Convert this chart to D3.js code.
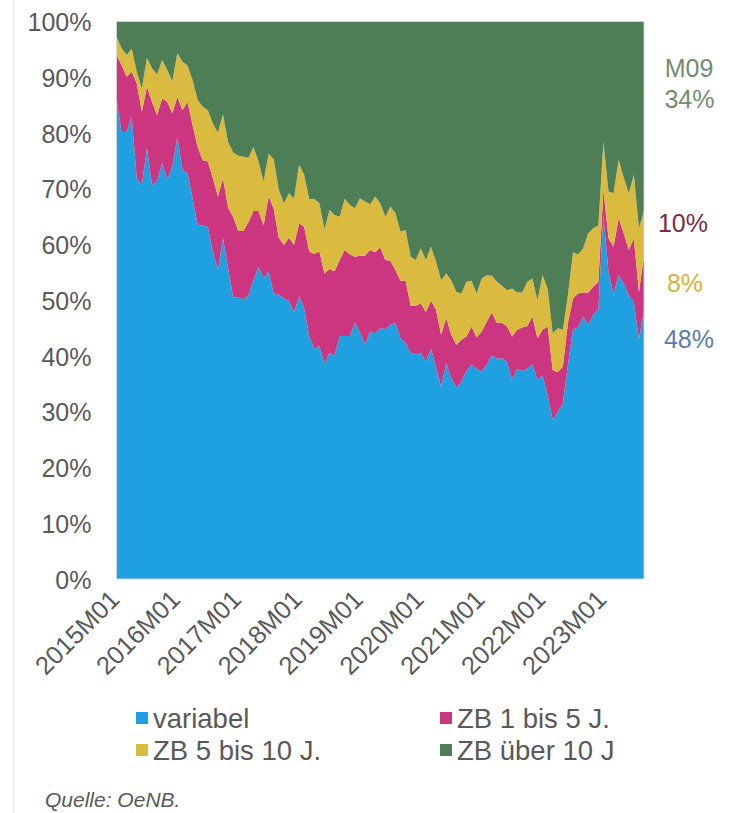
<!DOCTYPE html>
<html>
<head>
<meta charset="utf-8">
<script src="https://cdn.jsdelivr.net/npm/d3@7"></script>
<style>
  html, body { margin: 0; padding: 0; background: #ffffff; }
  svg { display: block; font-family: "Liberation Sans", Arial, sans-serif; }
</style>
</head>
<body>
<svg id="chart" width="740" height="813"></svg>
<script>
// ---- data (shares in %, 2015M01 .. 2023M09) ----
const startYear = 2015, nMonths = 105;
const months = [];
for (let i = 0; i < nMonths; i++) {
  const yy = startYear + Math.floor(i / 12), mm = (i % 12) + 1;
  months.push(yy + "M" + (mm < 10 ? "0" + mm : mm));
}
const variabel = [86.2,80.2,80.2,82.9,71.9,70.7,77.3,70.7,71.3,74.6,71.6,74.0,79.3,73.4,72.8,68.3,63.5,63.4,63.2,58.7,55.4,61.1,55.7,50.5,50.5,50.2,50.9,53.6,56.0,53.9,55.2,51.1,51.0,50.3,49.9,47.8,50.7,48.5,43.5,41.3,41.8,38.5,40.6,40.1,43.6,43.6,43.6,45.9,44.2,42.0,44.4,44.1,45.0,44.8,45.6,45.9,43.2,42.3,40.6,40.3,40.5,39.0,41.3,37.9,34.5,38.7,36.0,34.3,35.4,37.3,38.5,37.7,37.2,38.4,40.1,39.5,39.6,38.9,35.7,37.7,37.3,37.7,38.5,35.7,36.5,33.0,28.5,30.0,31.5,38.4,44.8,45.1,47.1,45.6,47.4,48.4,65.3,55.0,51.1,54.5,53.0,50.9,49.7,43.0,48.2];
const zb1bis5 = [7.8,12.0,9.9,8.1,17.0,13.1,11.0,14.9,11.9,11.6,14.0,9.5,7.2,10.7,12.8,13.1,14.0,11.7,11.7,13.2,13.2,10.8,10.9,14.5,11.9,12.2,13.1,12.4,10.0,9.5,13.4,15.3,10.2,9.6,11.3,12.1,13.1,14.7,15.2,17.0,17.0,16.3,15.0,15.1,13.6,15.4,14.6,11.9,13.8,16.0,14.6,14.5,14.5,12.4,11.5,9.5,10.3,11.2,8.4,8.7,8.9,8.9,8.6,10.4,9.3,8.1,7.8,7.7,7.5,6.2,6.8,5.6,7.2,7.8,7.7,6.4,6.3,6.4,7.8,7.0,7.8,7.7,8.6,7.5,8.2,12.3,9.0,7.1,6.6,7.5,5.5,6.1,4.3,5.8,5.0,4.9,4.5,6.1,8.5,10.2,9.0,8.1,11.4,8.5,9.8];
const zb5bis10 = [3.3,3.0,3.9,4.1,2.1,4.2,5.2,6.0,7.3,6.9,5.7,5.8,7.8,8.7,6.5,8.1,8.4,9.6,9.2,9.8,11.5,11.4,11.8,11.5,13.5,13.4,11.5,11.5,8.9,7.9,7.7,8.9,8.6,7.5,8.0,8.4,10.5,9.3,9.4,9.9,8.6,7.9,10.6,10.1,7.8,9.2,8.9,8.7,10.3,9.7,8.2,10.0,7.9,7.8,9.7,10.2,8.8,9.1,8.8,8.2,9.9,9.3,9.7,8.6,9.8,8.0,9.8,9.5,8.3,9.8,8.2,7.9,9.5,8.3,6.6,7.4,6.7,6.5,8.6,6.7,6.3,7.9,6.8,6.8,9.8,6.8,6.6,7.9,6.6,5.0,8.3,7.0,7.9,10.6,10.5,10.1,8.6,8.4,9.6,10.5,10.0,10.2,11.4,11.4,8.0];
const zbUeber10 = [2.7,4.8,6.0,4.9,9.0,12.0,6.5,8.4,9.5,6.9,8.7,10.7,5.7,7.2,7.9,10.5,14.1,15.3,15.9,18.3,19.9,16.7,21.6,23.5,24.1,24.2,24.5,22.5,25.1,28.7,23.7,24.7,30.2,32.6,30.8,31.7,25.7,27.5,31.9,31.8,32.6,37.3,33.8,34.7,35.0,31.8,32.9,33.5,31.7,32.3,32.8,31.4,32.6,35.0,33.2,34.4,37.7,37.4,42.2,42.8,40.7,42.8,40.4,43.1,46.4,45.2,46.4,48.5,48.8,46.7,46.5,48.8,46.1,45.5,45.6,46.7,47.4,48.2,47.9,48.6,48.6,46.7,46.1,50.0,45.5,47.9,55.9,55.0,55.3,49.1,41.4,41.8,40.7,38.0,37.1,36.6,21.6,30.5,30.8,24.8,28.0,30.8,27.5,37.1,34.0];
const seriesNames = ["variabel", "ZB 1 bis 5 J.", "ZB 5 bis 10 J.", "ZB über 10 J"];
const seriesColors = ["#1fa0e0", "#cc3580", "#dbba40", "#4e7e55"];
const xTickLabels = ["2015M01","2016M01","2017M01","2018M01","2019M01","2020M01","2021M01","2022M01","2023M01"];
const yTicks = [0,10,20,30,40,50,60,70,80,90,100];
const endLabels = [
  {text: "M09", color: "#6f8e6f"},
  {text: "34%", color: "#6f8e6f"},
  {text: "10%", color: "#7a2a45"},
  {text: "8%",  color: "#d5b23a"},
  {text: "48%", color: "#5b7cab"}
];

// ---- build table ----
const seriesArrays = [variabel, zb1bis5, zb5bis10, zbUeber10];
const table = months.map((m, i) => {
  const row = {month: m};
  seriesNames.forEach((k, j) => row[k] = seriesArrays[j][i]);
  return row;
});

const svg = d3.select("#chart");
const pLeft = 116.5, pRight = 644, pTop = 21.5, pBottom = 579;

const x = d3.scalePoint().domain(months).range([pLeft, pRight]);
const y = d3.scaleLinear().domain([0, 100]).range([pBottom, pTop]);

// page frame line
svg.append("line").attr("x1", 13.5).attr("x2", 13.5).attr("y1", 0).attr("y2", 813)
  .attr("stroke", "#e6e6e6").attr("stroke-width", 1);

const stack = d3.stack().keys(seriesNames);
const layers = stack(table);

const area = d3.area()
  .x(d => x(d.data.month))
  .y0(d => y(d[0]))
  .y1(d => y(d[1]));

svg.append("g").selectAll("path").data(layers).join("path")
  .attr("d", area)
  .attr("fill", (d, i) => seriesColors[i]);

// plot border
svg.append("rect").attr("x", pLeft).attr("y", pTop)
  .attr("width", pRight - pLeft).attr("height", pBottom - pTop)
  .attr("fill", "none").attr("stroke", "#d9d9d9").attr("stroke-width", 0.8);

// y axis
const yAxis = d3.axisLeft(y).tickValues(yTicks).tickFormat(d => d + "%").tickSize(0).tickPadding(25);
const gy = svg.append("g").attr("transform", `translate(${pLeft},0)`).call(yAxis);
gy.select(".domain").remove();
gy.selectAll("text").attr("font-size", 25).attr("fill", "#595959")
  .attr("font-family", "'Liberation Sans', Arial, sans-serif").attr("dy", "0.36em");

// x axis
const xAxis = d3.axisBottom(x).tickValues(xTickLabels).tickSize(0).tickPadding(0);
const gx = svg.append("g").attr("transform", `translate(0,${pBottom})`).call(xAxis);
gx.select(".domain").remove();
gx.selectAll("text")
  .attr("font-size", 25.5).attr("fill", "#595959")
  .attr("font-family", "'Liberation Sans', Arial, sans-serif")
  .attr("text-anchor", "end").attr("dy", null).attr("y", null)
  .attr("transform", "translate(4,22) rotate(-45)");

// end labels
const endPos = [77, 108, 232, 292, 348];
const endX = [689, 689.5, 683, 685, 689];
svg.append("g").selectAll("text").data(endLabels).join("text")
  .attr("x", (d, i) => endX[i]).attr("y", (d, i) => endPos[i])
  .attr("text-anchor", "middle").attr("font-size", 25)
  .attr("fill", d => d.color).text(d => d.text);

// legend
const legX = [136, 440], legY = [718, 750];
const leg = svg.append("g");
seriesNames.forEach((name, i) => {
  const cx = legX[i % 2], cy = legY[Math.floor(i / 2)];
  leg.append("rect").attr("x", cx).attr("y", cy - 6).attr("width", 12).attr("height", 12)
    .attr("fill", seriesColors[i]);
  leg.append("text").attr("x", cx + 17).attr("y", cy).attr("dy", "0.36em")
    .attr("font-size", 27.5).attr("fill", "#595959").text(name);
});

// source
svg.append("text").attr("x", 45).attr("y", 807).attr("font-size", 21)
  .attr("font-style", "italic").attr("fill", "#595959").text("Quelle: OeNB.");
</script>
</body>
</html>
